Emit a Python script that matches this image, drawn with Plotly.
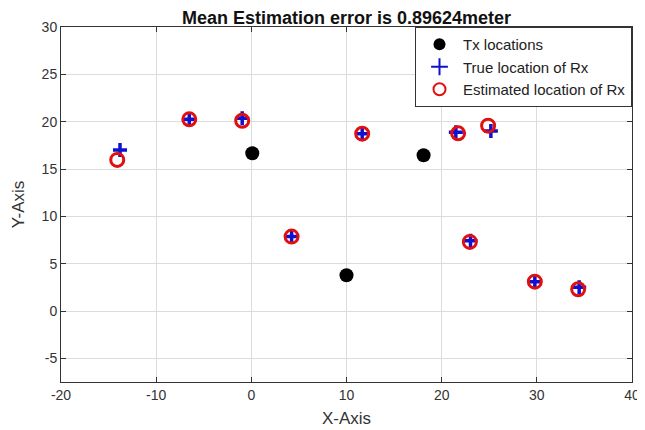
import plotly.graph_objects as go

tx_x = [0.1, 18.1, 10.0]
tx_y = [16.66, 16.45, 3.78]

true_x = [-13.8, -6.52, -0.96, 4.23, 11.65, 21.49, 25.17, 23.03, 29.79, 34.45]
true_y = [17.0, 20.25, 20.36, 7.86, 18.73, 18.88, 19.02, 7.43, 3.1, 2.51]

est_x = [-14.09, -6.52, -0.96, 4.23, 11.65, 21.73, 24.88, 22.96, 29.79, 34.34]
est_y = [15.96, 20.25, 20.1, 7.86, 18.73, 18.77, 19.58, 7.30, 3.1, 2.30]

title_text = "Mean Estimation error is 0.89624meter"
x_ticks = [-20, -10, 0, 10, 20, 30, 40]
x_tick_labels = ["-20", "-10", "0", "10", "20", "30", "40"]
y_ticks = [-5, 0, 5, 10, 15, 20, 25, 30]
y_tick_labels = ["-5", "0", "5", "10", "15", "20", "25", "30"]

font_family = "Liberation Sans, Arial, sans-serif"

fig = go.Figure()
fig.add_trace(go.Scatter(
    x=tx_x, y=tx_y, mode="markers", name="Tx locations",
    marker=dict(symbol="circle", size=14, color="black"),
))
fig.add_trace(go.Scatter(
    x=true_x, y=true_y, mode="markers", name="True location of Rx",
    marker=dict(symbol="cross-thin", size=10, color="#1010d0",
                line=dict(width=3.5, color="#1010d0")),
))
fig.add_trace(go.Scatter(
    x=est_x, y=est_y, mode="markers", name="Estimated location of Rx",
    marker=dict(symbol="circle-open", size=13, color="#e01010",
                line=dict(width=3, color="#e01010")),
))

axis_common = dict(
    showgrid=True, gridcolor="#dcdcdc", gridwidth=1,
    zeroline=False, showline=True, linecolor="#333333", linewidth=1,
    mirror="allticks", ticks="inside", ticklen=5, tickcolor="#333333",
    tickfont=dict(size=14, color="#333333", family=font_family),
    automargin=False,
)

fig.update_layout(
    width=637, height=422,
    margin=dict(l=53, r=13, t=19, b=48),
    paper_bgcolor="white", plot_bgcolor="white",
    title=dict(text="<b>" + title_text + "</b>", xref="paper", x=0.5,
               xanchor="center", yref="container", y=0.978, yanchor="middle",
               automargin=False,
               font=dict(size=18, color="#111111", family=font_family)),
    xaxis=dict(range=[-20, 40], tickvals=x_ticks, ticktext=x_tick_labels,
               title=dict(text="X-Axis", standoff=10,
                          font=dict(size=17, color="#333333", family=font_family)),
               **axis_common),
    yaxis=dict(range=[-7.5, 30], tickvals=y_ticks, ticktext=y_tick_labels,
               title=dict(text="Y-Axis", standoff=12,
                          font=dict(size=17, color="#333333", family=font_family)),
               **axis_common),
    legend=dict(x=1, y=1, xanchor="right", yanchor="top",
                bgcolor="white", bordercolor="#333333", borderwidth=1,
                font=dict(size=15, color="#222222", family=font_family),
                tracegroupgap=0, itemsizing="constant", itemwidth=37),
    showlegend=True,
)

fig.write_html("out.html")
